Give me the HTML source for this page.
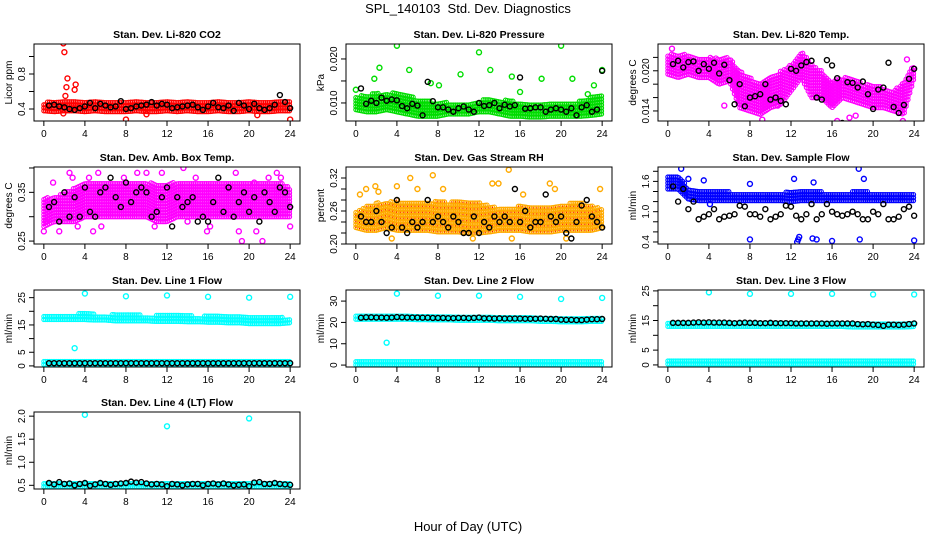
<!DOCTYPE html>
<html><head><meta charset="utf-8"><style>
body{margin:0;background:#fff}
svg text{font-family:"Liberation Sans",sans-serif}
</style></head><body>
<svg id="c" width="936" height="540" xmlns="http://www.w3.org/2000/svg">
<rect width="936" height="540" fill="#fff"/>
<text x="468" y="13" font-size="13" text-anchor="middle">SPL_140103 &#160;Std. Dev. Diagnostics</text>
<text x="468" y="531" font-size="13" text-anchor="middle">Hour of Day (UTC)</text>
</svg>
<script>
// ---- data (hourly band lo/hi 0..24, black series at 0.5..24 step 0.5, outliers) ----
const co2Lo=[0.38,0.37,0.38,0.38,0.37,0.38,0.37,0.37,0.37,0.38,0.37,0.37,0.38,0.37,0.38,0.37,0.37,0.38,0.37,0.37,0.38,0.37,0.37,0.38,0.38];
const co2Hi=[0.48,0.48,0.49,0.49,0.50,0.49,0.48,0.49,0.49,0.49,0.48,0.49,0.49,0.48,0.49,0.49,0.48,0.49,0.49,0.49,0.49,0.49,0.48,0.50,0.49];
const co2Black=[0.44,0.45,0.43,0.42,0.40,0.39,0.41,0.43,0.47,0.41,0.46,0.44,0.42,0.43,0.49,0.40,0.41,0.43,0.44,0.45,0.48,0.44,0.46,0.45,0.41,0.42,0.43,0.44,0.45,0.42,0.39,0.43,0.47,0.42,0.41,0.44,0.38,0.47,0.44,0.40,0.46,0.41,0.39,0.41,0.45,0.56,0.48,0.41];
const co2OutH=[1.9,2.0,2.3,2.2,2.1,3.0,3.1,8.0,24.0,20.8,1.9,10.0];
const co2OutV=[1.15,1.05,0.75,0.65,0.55,0.62,0.68,0.28,0.28,0.33,0.35,0.34];

const prLo=[0.0085,0.008,0.008,0.0085,0.008,0.0075,0.007,0.007,0.007,0.0075,0.0075,0.0075,0.008,0.008,0.0075,0.007,0.007,0.0068,0.0068,0.007,0.007,0.007,0.007,0.0072,0.0075];
const prHi=[0.0115,0.012,0.0122,0.0122,0.0125,0.012,0.0108,0.0105,0.0102,0.0102,0.0102,0.0102,0.0106,0.011,0.0108,0.0105,0.0102,0.01,0.0102,0.0102,0.0102,0.0102,0.0105,0.0115,0.012];
const prBlack=[0.0133,0.0098,0.0105,0.0100,0.0112,0.0105,0.0108,0.0106,0.0093,0.0088,0.0098,0.0094,0.0072,0.0148,0.0104,0.0090,0.0090,0.0085,0.0080,0.0088,0.0092,0.0085,0.0080,0.0100,0.0093,0.0095,0.0100,0.0088,0.0096,0.0092,0.0095,0.0158,0.0087,0.0088,0.0090,0.0090,0.0080,0.0085,0.0088,0.0085,0.0080,0.0088,0.0072,0.0090,0.0095,0.0080,0.0085,0.0173];
const prOutH=[0,1.8,2.3,4.0,5.2,7.3,8.1,10.2,12.0,13.1,15.2,16.0,18.1,20.0,21.1,23.2,24.0,22.6];
const prOutV=[0.013,0.0155,0.018,0.023,0.0175,0.0145,0.014,0.0165,0.0215,0.0175,0.016,0.0125,0.0155,0.023,0.0155,0.014,0.0175,0.012];

const tpLo=[0.0195,0.019,0.0195,0.019,0.019,0.018,0.0185,0.0145,0.014,0.0135,0.0145,0.015,0.017,0.019,0.016,0.016,0.0145,0.016,0.0155,0.015,0.0145,0.0145,0.014,0.0135,0.019];
const tpHi=[0.0225,0.0225,0.0225,0.022,0.022,0.022,0.022,0.02,0.019,0.018,0.019,0.02,0.021,0.023,0.021,0.02,0.0185,0.019,0.019,0.018,0.018,0.0175,0.017,0.0185,0.021];
const tpBlack=[0.0210,0.0215,0.0205,0.0213,0.0214,0.0200,0.0210,0.0203,0.0212,0.0196,0.0209,0.0186,0.0150,0.0180,0.0147,0.0160,0.0162,0.0165,0.0180,0.0157,0.0160,0.0155,0.0150,0.0203,0.0200,0.0208,0.0213,0.0215,0.0160,0.0157,0.0216,0.0208,0.0189,0.0122,0.0183,0.0182,0.0175,0.0184,0.0165,0.0143,0.0172,0.0175,0.0212,0.0146,0.0137,0.0149,0.0188,0.0203];
const tpOutH=[5.5,9.2,16.5,17.7,18.3,22.9,23.3,10.7,0.4];
const tpOutV=[0.0148,0.0127,0.0125,0.013,0.0133,0.0125,0.0217,0.0148,0.0233];

const abLo=[0.28,0.29,0.29,0.29,0.3,0.3,0.3,0.3,0.3,0.3,0.3,0.29,0.29,0.3,0.3,0.3,0.3,0.3,0.3,0.3,0.3,0.3,0.3,0.3,0.3];
const abHi=[0.34,0.34,0.35,0.36,0.37,0.37,0.37,0.37,0.37,0.37,0.37,0.37,0.37,0.37,0.37,0.37,0.37,0.37,0.37,0.37,0.37,0.37,0.37,0.37,0.36];
const abBlack=[0.32,0.33,0.29,0.35,0.30,0.34,0.30,0.36,0.31,0.30,0.35,0.36,0.38,0.34,0.32,0.37,0.33,0.35,0.36,0.35,0.30,0.31,0.34,0.36,0.28,0.34,0.32,0.33,0.34,0.29,0.30,0.29,0.33,0.38,0.31,0.36,0.30,0.33,0.35,0.31,0.34,0.29,0.35,0.33,0.31,0.36,0.35,0.32];
const abOutH=[0,0.2,0.9,1.5,2.5,2.8,3.3,4.4,4.8,5.3,5.6,7.8,9.1,10.0,10.8,11.5,13.6,14.0,14.8,15.9,16.2,18.7,19.0,19.3,20.5,20.7,21.3,21.9,22.7,23.1,24.0];
const abOutV=[0.27,0.29,0.37,0.27,0.39,0.38,0.28,0.38,0.27,0.39,0.28,0.38,0.39,0.39,0.28,0.39,0.40,0.29,0.38,0.27,0.28,0.39,0.27,0.25,0.37,0.27,0.25,0.38,0.39,0.38,0.28];

const rhLo=[0.23,0.225,0.225,0.23,0.225,0.225,0.225,0.225,0.222,0.222,0.222,0.22,0.22,0.222,0.225,0.225,0.225,0.222,0.222,0.222,0.225,0.225,0.225,0.225,0.23];
const rhHi=[0.26,0.27,0.275,0.275,0.28,0.275,0.275,0.275,0.28,0.275,0.28,0.28,0.275,0.27,0.265,0.265,0.27,0.27,0.27,0.27,0.27,0.275,0.275,0.27,0.265];
const rhBlack=[0.25,0.24,0.24,0.26,0.24,0.22,0.23,0.28,0.23,0.22,0.24,0.23,0.24,0.28,0.24,0.25,0.24,0.23,0.25,0.24,0.22,0.22,0.25,0.22,0.24,0.23,0.25,0.24,0.25,0.24,0.30,0.24,0.26,0.23,0.24,0.24,0.29,0.25,0.24,0.25,0.22,0.21,0.24,0.27,0.28,0.25,0.24,0.23];
const rhOutH=[0.4,1.0,1.9,2.2,4.0,5.3,6.0,7.5,8.5,13.3,13.9,14.9,15.2,16.3,18.9,19.4,23.8,3.5,11.4,20.5];
const rhOutV=[0.29,0.3,0.305,0.295,0.305,0.32,0.3,0.325,0.30,0.31,0.31,0.335,0.21,0.29,0.31,0.30,0.30,0.21,0.21,0.21];

const sfLo=[1.45,1.45,1.25,1.22,1.22,1.22,1.22,1.22,1.22,1.22,1.22,1.22,1.2,1.22,1.22,1.22,1.22,1.22,1.22,1.22,1.22,1.22,1.22,1.22,1.22];
const sfHi=[1.72,1.75,1.45,1.42,1.42,1.4,1.4,1.38,1.38,1.38,1.38,1.38,1.4,1.4,1.4,1.4,1.38,1.38,1.4,1.42,1.38,1.35,1.35,1.38,1.36];
const sfBlack=[1.5,1.2,1.45,1.05,1.2,0.85,0.9,0.95,1.05,0.85,0.9,0.92,0.95,1.12,1.1,0.95,0.95,0.9,1.05,0.85,0.9,0.95,1.12,1.1,0.92,0.85,0.95,1.15,0.85,0.95,1.15,1.0,0.95,0.92,0.95,1.0,0.95,0.85,0.85,1.0,0.95,1.15,0.85,0.85,0.9,1.05,1.1,0.92];
const sfOutH=[8.0,12.6,12.7,12.8,14.1,14.5,16.0,18.7,24.0,1.3,12.3,14.2,18.6,19.1,2.0,3.5,4.1,8.0];
const sfOutV=[0.45,0.4,0.45,0.5,0.47,0.45,0.42,0.45,0.43,1.85,1.65,1.58,1.85,1.65,1.65,1.62,1.15,1.55];

const l1Lo=[17,17,17,17,17,16.8,16.8,16.5,16.5,16.5,16.5,16.3,16.3,16.3,16.2,16.2,16,16,15.8,15.8,15.5,15.5,15.5,15.5,15.8];
const l1Hi=[19,19,19,19,19.5,19,18.8,18.8,18.8,18.8,18.6,18.5,18.5,18.5,18.5,18.3,18.3,18.2,18,18,17.8,17.8,17.8,17.8,17.8];
const l1Lo2=[0.5,0.5,0.5,0.5,0.5,0.5,0.5,0.5,0.5,0.5,0.5,0.5,0.5,0.5,0.5,0.5,0.5,0.5,0.5,0.5,0.5,0.5,0.5,0.5,0.5];
const l1Hi2=[2,2,2,2,2,2,2,2,2,2,2,2,2,2,2,2,2,2,2,2,2,2,2,2,2];
const l1Black=[1,1,1,1,1,1,1,1,1,1,1,1,1,1,1,1,1,1,1,1,1,1,1,1,1,1,1,1,1,1,1,1,1,1,1,1,1,1,1,1,1,1,1,1,1,1,1,1];
const l1OutH=[4,8,12,16,20,24,3];
const l1OutV=[26.5,25.5,25.8,25.3,25,25.3,6.5];

const l2Lo=[21.5,21.5,21.5,21.5,21.5,21.5,21.3,21.3,21.2,21.2,21,21,21,21,20.8,20.8,20.8,20.8,20.5,20.5,20.3,20.3,20.3,20.5,20.5];
const l2Hi=[23.5,23.5,23.5,23.8,24,23.5,23.3,23.3,23,23,23,22.8,22.8,22.8,22.6,22.6,22.5,22.5,22.5,22.3,22.3,22.2,22.3,22.3,22.3];
const l2Lo2=[0.2,0.2,0.2,0.2,0.2,0.2,0.2,0.2,0.2,0.2,0.2,0.2,0.2,0.2,0.2,0.2,0.2,0.2,0.2,0.2,0.2,0.2,0.2,0.2,0.2];
const l2Hi2=[2,2,2,2,2,2,2,2,2,2,2,2,2,2,2,2,2,2,2,2,2,2,2,2,2];
const l2Black=[22.2,22.4,22.4,22.3,22.3,22.2,22.3,22.5,22.4,22.3,22.3,22.3,22.2,22.2,22.1,22.1,22.1,22.0,22.0,22.1,22.1,22.0,22.1,22.3,21.9,21.9,21.8,21.9,21.8,21.8,21.8,21.8,21.7,21.7,21.7,21.8,21.7,21.6,21.6,21.3,21.2,21.2,21.1,21.1,21.3,21.5,21.5,21.6];
const l2OutH=[4,8,12,16,20,24,3];
const l2OutV=[33.5,32.5,32.5,32,31,31.5,10.5];

const l3Lo=[13,13,13,13,13,13,13,13,13,13,13,13,13,13,13,13,13,13,12.8,12.8,12.8,12.8,12.8,12.8,13];
const l3Hi=[15,15,15,15,15,15,15,15,15,15,15,15,15,15,14.8,14.8,14.8,14.8,14.8,14.8,14.6,14.6,14.6,14.6,14.8];
const l3Lo2=[0.3,0.3,0.3,0.3,0.3,0.3,0.3,0.3,0.3,0.3,0.3,0.3,0.3,0.3,0.3,0.3,0.3,0.3,0.3,0.3,0.3,0.3,0.3,0.3,0.3];
const l3Hi2=[1.6,1.6,1.6,1.6,1.6,1.6,1.6,1.6,1.6,1.6,1.6,1.6,1.6,1.6,1.6,1.6,1.6,1.6,1.6,1.6,1.6,1.6,1.6,1.6,1.6];
const l3Black=[14.2,14.2,14.2,14.2,14.3,14.4,14.3,14.4,14.3,14.3,14.3,14.2,14.1,14.2,14.3,14.2,14.2,14.1,14.1,14.2,14.1,14.1,14.1,14.1,14.0,14.0,14.0,14.0,14.0,14.0,13.9,14.0,14.0,14.0,14.0,14.0,13.8,13.7,13.8,13.6,13.5,13.2,13.6,13.6,13.5,13.6,13.8,14.0];
const l3OutH=[4,8,12,16,20,24];
const l3OutV=[24.5,24,24,24,23.8,23.8];

const l4Lo=[0.47,0.47,0.47,0.47,0.47,0.47,0.47,0.47,0.47,0.47,0.47,0.47,0.47,0.47,0.47,0.47,0.47,0.47,0.47,0.47,0.47,0.47,0.47,0.47,0.47];
const l4Hi=[0.59,0.6,0.6,0.59,0.58,0.58,0.58,0.58,0.59,0.59,0.58,0.58,0.58,0.58,0.58,0.58,0.58,0.58,0.59,0.58,0.58,0.59,0.58,0.58,0.57];
const l4Black=[0.55,0.52,0.57,0.53,0.54,0.50,0.53,0.55,0.49,0.52,0.55,0.53,0.51,0.53,0.54,0.55,0.58,0.56,0.57,0.54,0.52,0.53,0.52,0.48,0.53,0.52,0.50,0.52,0.53,0.53,0.50,0.53,0.54,0.52,0.54,0.52,0.50,0.51,0.52,0.48,0.56,0.57,0.53,0.53,0.55,0.53,0.52,0.51];
const l4OutH=[4,12,20];
const l4OutV=[2.03,1.78,1.95];

const xTicks=[0,4,8,12,16,20,24];

// ---- layout ----
const svg=document.getElementById('c');
const NS='http://www.w3.org/2000/svg';
const colL=[34,346,658], rowT=[44,167,290,412], PW=266, PH=77;
function mk(tag,attrs,parent){const e=document.createElementNS(NS,tag);for(const k in attrs)e.setAttribute(k,attrs[k]);(parent||svg).appendChild(e);return e;}

const panels=[
 {key:'co2',title:'Stan. Dev. Li-820 CO2',ylab:'Licor ppm',c:0,r:0,ymin:0.263,ymax:1.143,ticks:[0.4,0.6,0.8,1.0],labels:[0.4,0.8],dec:1,col:'#ff0000',bands:[[co2Lo,co2Hi]],black:co2Black,oh:co2OutH,ov:co2OutV},
 {key:'pressure',title:'Stan. Dev. Li-820 Pressure',ylab:'kPa',c:1,r:0,ymin:0.0059,ymax:0.0234,ticks:[0.010,0.015,0.020],labels:[0.010,0.020],dec:3,col:'#00dd00',bands:[[prLo,prHi]],black:prBlack,oh:prOutH,ov:prOutV},
 {key:'li820-temp',title:'Stan. Dev. Li-820 Temp.',ylab:'degrees C',c:2,r:0,ymin:0.0125,ymax:0.0240,ticks:[0.014,0.016,0.018,0.020,0.022],labels:[0.014,0.020],dec:3,col:'#ff00ff',bands:[[tpLo,tpHi]],black:tpBlack,oh:tpOutH,ov:tpOutV},
 {key:'amb-box-temp',title:'Stan. Dev. Amb. Box Temp.',ylab:'degrees C',c:0,r:1,ymin:0.244,ymax:0.402,ticks:[0.25,0.30,0.35,0.40],labels:[0.25,0.35],dec:2,col:'#ff00ff',bands:[[abLo,abHi]],black:abBlack,oh:abOutH,ov:abOutV},
 {key:'gas-rh',title:'Stan. Dev. Gas Stream RH',ylab:'percent',c:1,r:1,ymin:0.20,ymax:0.34,ticks:[0.20,0.22,0.24,0.26,0.28,0.30,0.32],labels:[0.20,0.26,0.32],dec:2,col:'#ffaa00',dot:'#ff0000',bands:[[rhLo,rhHi]],black:rhBlack,oh:rhOutH,ov:rhOutV},
 {key:'sample-flow',title:'Stan. Dev. Sample Flow',ylab:'ml/min',c:2,r:1,ymin:0.36,ymax:1.885,ticks:[0.4,0.6,0.8,1.0,1.2,1.4,1.6,1.8],labels:[0.4,1.0,1.6],dec:1,col:'#0000ff',bands:[[sfLo,sfHi]],black:sfBlack,oh:sfOutH,ov:sfOutV},
 {key:'line1',title:'Stan. Dev. Line 1 Flow',ylab:'ml/min',c:0,r:2,ymin:-0.4,ymax:27.8,ticks:[0,5,10,15,20,25],labels:[0,5,15,25],dec:0,col:'#00ffff',bands:[[l1Lo,l1Hi],[l1Lo2,l1Hi2]],black:l1Black,oh:l1OutH,ov:l1OutV},
 {key:'line2',title:'Stan. Dev. Line 2 Flow',ylab:'ml/min',c:1,r:2,ymin:-0.9,ymax:35.2,ticks:[0,10,20,30],labels:[0,10,20,30],dec:0,col:'#00ffff',bands:[[l2Lo,l2Hi],[l2Lo2,l2Hi2]],black:l2Black,oh:l2OutH,ov:l2OutV},
 {key:'line3',title:'Stan. Dev. Line 3 Flow',ylab:'ml/min',c:2,r:2,ymin:-0.7,ymax:25.3,ticks:[0,5,10,15,20,25],labels:[0,5,15,25],dec:0,col:'#00ffff',bands:[[l3Lo,l3Hi],[l3Lo2,l3Hi2]],black:l3Black,oh:l3OutH,ov:l3OutV},
 {key:'line4',title:'Stan. Dev. Line 4 (LT) Flow',ylab:'ml/min',c:0,r:3,ymin:0.42,ymax:2.09,ticks:[0.5,1.0,1.5,2.0],labels:[0.5,1.0,1.5,2.0],dec:1,col:'#00ffff',bands:[[l4Lo,l4Hi]],black:l4Black,oh:l4OutH,ov:l4OutV}
];

panels.forEach((p,pi)=>{
  const L=colL[p.c], T=rowT[p.r];
  const g=mk('g',{});
  
  
  const xs=h=>L+PW*(h+0.96)/25.92;
  const ys=v=>T+PH*(p.ymax-v)/(p.ymax-p.ymin);
  const cid='clip'+pi;
  const cp=mk('clipPath',{id:cid},g); mk('rect',{x:L,y:T,width:PW,height:PH},cp);
  const pts=mk('g',{'clip-path':'url(#'+cid+')'},g);
  
  
  const vstep=3.0*(p.ymax-p.ymin)/PH;
  p.bands.forEach(b=>{
    const lo=b[0], hi=b[1];
    for(let h=0;h<=24.001;h+=0.18){
      const i=Math.min(23,Math.floor(h)), f=h-i;
      const a=lo[i]+(lo[i+1]-lo[i])*f, z=hi[i]+(hi[i+1]-hi[i])*f;
      for(let v=a; v<=z+1e-9; v+=vstep){
        const c=mk('circle',{cx:xs(h).toFixed(1),cy:ys(v).toFixed(1),r:2.1,fill:'none',stroke:p.col,'stroke-width':1.1},pts);
        
        
      }
    }
  });
  if(p.dot){
    p.bands.forEach(b=>{
      const lo=b[0], hi=b[1];
      for(let h=0;h<=24.001;h+=0.36){
        const i=Math.min(23,Math.floor(h)), f=h-i;
        const a=lo[i]+(lo[i+1]-lo[i])*f, z=hi[i]+(hi[i+1]-hi[i])*f;
        for(let v=a; v<=z+1e-9; v+=vstep*2){
          const d=mk('rect',{x:(xs(h)-0.5).toFixed(1),y:(ys(v)-0.5).toFixed(1),width:1,height:1,fill:p.dot},pts);
          
          
        }
      }
    });
  }
  p.oh.forEach((h,i)=>{
    const c=mk('circle',{cx:xs(h),cy:ys(p.ov[i]),r:2.5,fill:'none',stroke:p.col,'stroke-width':1.4},pts);
    
    
  });
  p.black.forEach((v,i)=>{
    const h=0.5*(i+1);
    const c=mk('circle',{cx:xs(h),cy:ys(v),r:2.5,fill:'none',stroke:'#000','stroke-width':1.4},pts);
    
    
  });
  const box=mk('rect',{x:L,y:T,width:PW,height:PH,fill:'none',stroke:'#000','stroke-width':1},g);
  
  
  const xa=mk('g',{},g);
  
  
  mk('line',{x1:xs(0),x2:xs(24),y1:T+PH,y2:T+PH,stroke:'#000'},xa);
  xTicks.forEach(t=>{
    mk('line',{x1:xs(t),x2:xs(t),y1:T+PH,y2:T+PH+5,stroke:'#000'},xa);
    const tx=mk('text',{x:xs(t),y:T+PH+16,'font-size':10,'text-anchor':'middle'},xa);
    tx.textContent=t;
    
    
  });
  const ya=mk('g',{},g);
  
  
  mk('line',{x1:L,x2:L,y1:ys(p.ticks[0]),y2:ys(p.ticks[p.ticks.length-1]),stroke:'#000'},ya);
  p.ticks.forEach(t=>{
    mk('line',{x1:L-5,x2:L,y1:ys(t),y2:ys(t),stroke:'#000'},ya);
  });
  p.labels.forEach(t=>{
    const tx=mk('text',{x:0,y:0,'font-size':10,'text-anchor':'middle',transform:'translate('+(L-9)+','+ys(t)+') rotate(-90)'},ya);
    tx.textContent=t.toFixed(p.dec);
    
    
  });
  const yl=mk('text',{x:0,y:0,'font-size':10,'text-anchor':'middle',transform:'translate('+(L-22)+','+(T+PH/2)+') rotate(-90)'},g);
  yl.textContent=p.ylab;
  
  
  const ti=mk('text',{x:L+PW/2,y:T-6,'font-size':10.5,'font-weight':'bold','text-anchor':'middle'},g);
  ti.textContent=p.title;
  
  
});
</script>
</body></html>
